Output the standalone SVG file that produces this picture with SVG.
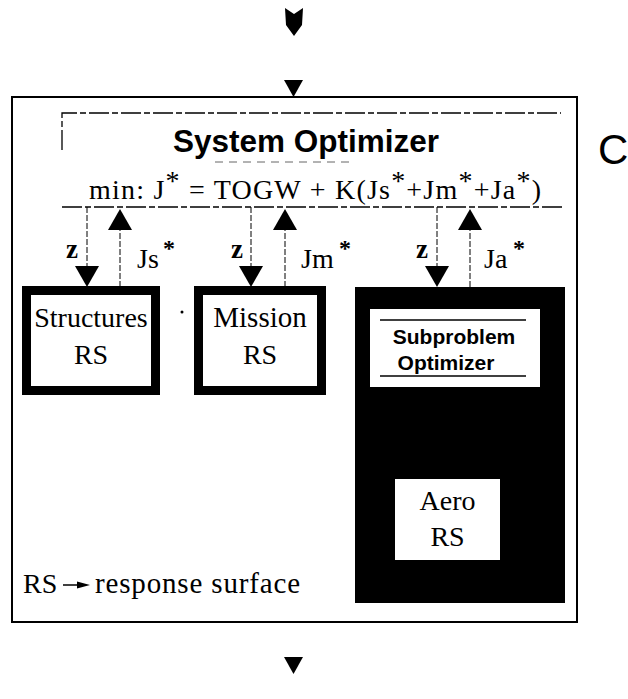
<svg xmlns="http://www.w3.org/2000/svg" width="628" height="699" viewBox="0 0 628 699">
  <style>
    .serif{font-family:"Liberation Serif","Times New Roman",serif;fill:#000}
    .sans{font-family:"Liberation Sans",Arial,sans-serif;fill:#000}
    .bold{font-weight:bold}
    .outer{fill:none;stroke:#000;stroke-width:2}
    .dash{fill:none;stroke:#000;stroke-width:1.3;stroke-dasharray:20 3 6 3}
    .faint{fill:none;stroke:#666;stroke-width:1;stroke-dasharray:8 6}
    .thin{fill:none;stroke:#000;stroke-width:1;stroke-dasharray:6 2}
    .head{fill:#000}
    .frame{fill:#fff;stroke:#000;stroke-width:9}
  </style>

  <!-- incoming arrows above the system optimizer block -->
  <g id="inflow">
    <path class="head" d="M285,8 L294,14 L303,8 L302,25 L294,36 L286,25 Z"/>
    <polygon class="head" points="284,80 303,80 293.5,97"/>
  </g>

  <!-- enclosing block -->
  <g id="system-block">
    <rect class="outer" x="12" y="97" width="565" height="525"/>
  </g>

  <!-- system optimizer header -->
  <g id="system-optimizer">
    <path class="dash" d="M62,150 L62,113 L561,113"/>
    <text class="sans bold" x="306" y="152" font-size="31" textLength="266" lengthAdjust="spacingAndGlyphs" text-anchor="middle">System Optimizer</text>
    <path class="faint" d="M215,162 L352,162"/>
    <text class="serif" x="89" y="199" font-size="28" textLength="452" lengthAdjust="spacing">min: J<tspan dy="-9">*</tspan><tspan dy="9"> = TOGW + K(Js</tspan><tspan dy="-9">*</tspan><tspan dy="9">+Jm</tspan><tspan dy="-9">*</tspan><tspan dy="9">+Ja</tspan><tspan dy="-9">*</tspan><tspan dy="9">)</tspan></text>
    <path class="dash" d="M62,207 L562,207"/>
  </g>

  <!-- design variables down, subproblem objectives up -->
  <g id="connectors">
    <line class="thin" x1="87" y1="207" x2="87" y2="267"/>
    <polygon class="head" points="75,266 99,266 87,287"/>
    <line class="thin" x1="120" y1="287" x2="120" y2="229"/>
    <polygon class="head" points="108,230 132,230 120,209"/>

    <line class="thin" x1="251" y1="207" x2="251" y2="267"/>
    <polygon class="head" points="239,266 263,266 251,287"/>
    <line class="thin" x1="285" y1="287" x2="285" y2="229"/>
    <polygon class="head" points="273,230 297,230 285,209"/>

    <line class="thin" x1="437" y1="207" x2="437" y2="267"/>
    <polygon class="head" points="425,266 449,266 437,287"/>
    <line class="thin" x1="470" y1="287" x2="470" y2="229"/>
    <polygon class="head" points="458,230 482,230 470,209"/>

    <polygon class="head" points="284,657 303,657 293.5,674"/>
  </g>

  <!-- connector labels -->
  <g id="labels">
    <text class="serif bold" x="66" y="258" font-size="27">z</text>
    <text class="serif" x="137" y="268" font-size="28">Js</text>
    <text class="serif bold" x="163" y="256" font-size="24">*</text>

    <text class="serif bold" x="231" y="258" font-size="27">z</text>
    <text class="serif" x="301" y="268" font-size="28">Jm</text>
    <text class="serif bold" x="339" y="256" font-size="24">*</text>

    <text class="serif bold" x="416" y="258" font-size="27">z</text>
    <text class="serif" x="484" y="268" font-size="28">Ja</text>
    <text class="serif bold" x="513" y="256" font-size="24">*</text>
  </g>

  <g id="structures-rs">
    <rect class="frame" x="26.5" y="290.5" width="129" height="100"/>
    <text class="serif" x="91" y="327" font-size="28" text-anchor="middle">Structures</text>
    <text class="serif" x="91" y="364" font-size="28" text-anchor="middle">RS</text>
  </g>

  <circle cx="182" cy="312" r="1.5" fill="#000"/>

  <g id="mission-rs">
    <rect class="frame" x="198.5" y="290.5" width="123" height="100"/>
    <text class="serif" x="260" y="327" font-size="29" text-anchor="middle">Mission</text>
    <text class="serif" x="260" y="364" font-size="28" text-anchor="middle">RS</text>
  </g>

  <g id="aero-subproblem">
    <rect x="355" y="287" width="210" height="316" fill="#000"/>
    <rect x="370" y="309" width="170" height="78" fill="#fff"/>
    <line x1="380" y1="320" x2="526" y2="320" stroke="#000" stroke-width="1.5"/>
    <text class="sans bold" x="454" y="344" font-size="21" text-anchor="middle">Subproblem</text>
    <text class="sans bold" x="446" y="370" font-size="21" text-anchor="middle">Optimizer</text>
    <line x1="380" y1="376" x2="526" y2="376" stroke="#000" stroke-width="1.5"/>
    <rect x="395" y="479" width="105" height="81" fill="#fff"/>
    <text class="serif" x="447.5" y="510" font-size="28" text-anchor="middle">Aero</text>
    <text class="serif" x="447.5" y="546" font-size="28" text-anchor="middle">RS</text>
  </g>

  <!-- legend -->
  <g id="legend">
    <text class="serif" x="23" y="593" font-size="28">RS</text>
    <line x1="63" y1="585" x2="79" y2="585" stroke="#000" stroke-width="1.5"/>
    <polygon class="head" points="77,581.5 90,585 77,588.5"/>
    <text class="serif" x="95" y="593" font-size="29" textLength="205" lengthAdjust="spacing">response surface</text>
  </g>

  <text class="sans" x="598" y="164" font-size="42" fill="#111">C</text>
</svg>
